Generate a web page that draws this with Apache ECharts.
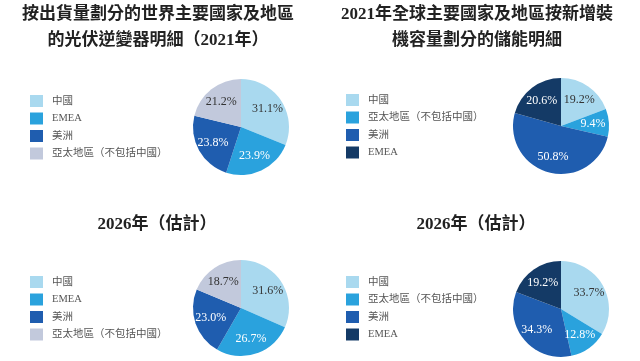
<!DOCTYPE html>
<html><head><meta charset="utf-8">
<script src="https://cdn.jsdelivr.net/npm/echarts@6/dist/echarts.min.js"></script>
<style>html,body{margin:0;padding:0;background:#fff}#c{width:640px;height:361px}</style>
</head><body><div id="c"></div>
<script>
const titles = [
  "按出貨量劃分的世界主要國家及地區\n的光伏逆變器明細（2021年）",
  "2021年全球主要國家及地區按新增裝\n機容量劃分的儲能明細",
  "2026年（估計）",
  "2026年（估計）"
];
const catsInverter = ["中國", "EMEA", "美洲", "亞太地區（不包括中國）"];
const catsStorage = ["中國", "亞太地區（不包括中國）", "美洲", "EMEA"];
const inverter2021 = [31.1, 23.9, 23.8, 21.2];
const inverter2026 = [31.6, 26.7, 23.0, 18.7];
const storage2021 = [19.2, 9.4, 50.8, 20.6];
const storage2026 = [33.7, 12.8, 34.3, 19.2];
const colorsInverter = ["#a9d9ef", "#2aa2dd", "#1f5daf", "#c2c9dc"];
const colorsStorage = ["#a9d9ef", "#2aa2dd", "#1f5daf", "#143a66"];
const labelColorsInverter = ["#333", "#fff", "#fff", "#333"];
const labelColorsStorage = ["#333", "#fff", "#fff", "#fff"];

const FONT = '"Liberation Serif","Noto Sans CJK TC",serif';
const TFONT = '"Liberation Serif","Noto Sans CJK TC",sans-serif';

function makePie(cats, vals, colors, cx, cy) {
  return {
    type: 'pie', center: [cx, cy], radius: 48, startAngle: 90, clockwise: true,
    silent: true, animation: false,
    label: {show: false}, labelLine: {show: false},
    itemStyle: {borderWidth: 0},
    data: cats.map((c, i) => ({name: c, value: vals[i], itemStyle: {color: colors[i]}}))
  };
}
function makeLabels(cats, vals, lcolors, cx, cy) {
  return {
    type: 'pie', center: [cx, cy], radius: [10, 48], startAngle: 90, clockwise: true,
    silent: true, animation: false, legendHoverLink: false,
    label: {show: true, position: 'inner', formatter: p => p.value.toFixed(1) + '%',
      fontFamily: FONT, fontSize: 12},
    labelLine: {show: false},
    itemStyle: {color: 'rgba(0,0,0,0)', borderWidth: 0},
    data: cats.map((c, i) => ({name: c + ' ', value: vals[i], label: {color: lcolors[i]}}))
  };
}
function makeLegend(cats, colors, x, y) {
  return {
    orient: 'vertical', left: x, top: y, padding: 0, itemWidth: 13, itemHeight: 12, itemGap: 5.5,
    selectedMode: false, icon: 'rect',
    textStyle: {fontFamily: FONT, fontSize: 10.5, color: '#555', padding: [0, 0, 0, 4]},
    data: cats.map((c, i) => ({name: c, itemStyle: {color: colors[i]}}))
  };
}
const tStyle = {fontFamily: TFONT, fontSize: 17, fontWeight: 'bold', color: '#222', lineHeight: 26};
const chart = echarts.init(document.getElementById('c'), null, {renderer: 'canvas'});
chart.setOption({
  animation: false,
  title: [
    {text: titles[0], left: 158, top: 2, padding: 0, textAlign: 'center', textStyle: tStyle},
    {text: titles[1], left: 477, top: 2, padding: 0, textAlign: 'center', textStyle: tStyle},
    {text: titles[2], left: 157, top: 212, padding: 0, textAlign: 'center', textStyle: tStyle},
    {text: titles[3], left: 476, top: 212, padding: 0, textAlign: 'center', textStyle: tStyle}
  ],
  legend: [
    makeLegend(catsInverter, colorsInverter, 30, 95),
    makeLegend(catsStorage, colorsStorage, 346, 94),
    makeLegend(catsInverter, colorsInverter, 30, 276),
    makeLegend(catsStorage, colorsStorage, 346, 276)
  ],
  series: [
    makePie(catsInverter, inverter2021, colorsInverter, 241, 127),
    makePie(catsStorage, storage2021, colorsStorage, 561, 126),
    makePie(catsInverter, inverter2026, colorsInverter, 241, 308),
    makePie(catsStorage, storage2026, colorsStorage, 561, 309),
    makeLabels(catsInverter, inverter2021, labelColorsInverter, 241, 127),
    makeLabels(catsStorage, storage2021, labelColorsStorage, 561, 126),
    makeLabels(catsInverter, inverter2026, labelColorsInverter, 241, 308),
    makeLabels(catsStorage, storage2026, labelColorsStorage, 561, 309)
  ]
});
</script></body></html>
